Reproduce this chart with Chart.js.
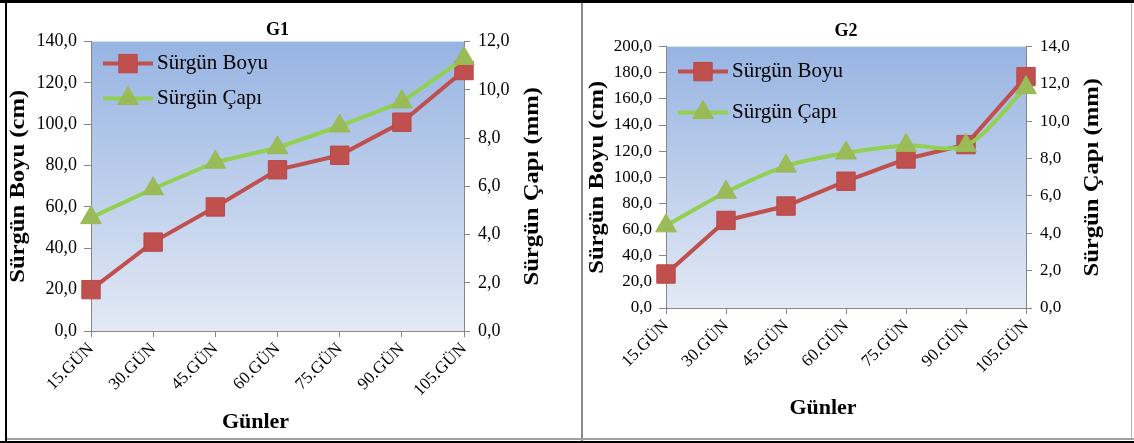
<!DOCTYPE html>
<html><head><meta charset="utf-8">
<script src="https://cdn.jsdelivr.net/npm/chart.js@4"></script>
<style>
html,body{margin:0;padding:0;background:#fff;overflow:hidden}
#wrap{position:relative;width:1134px;height:443px}
.c{position:absolute;top:0;height:443px}
.b{position:absolute}
</style></head><body>
<div id="wrap">
  <div class="c" style="left:0;width:582px"><canvas id="g1"></canvas></div>
  <div class="c" style="left:582px;width:552px"><canvas id="g2"></canvas></div>
  <div class="b" style="left:0;top:0;width:1134px;height:3px;background:#000"></div>
  <div class="b" style="left:5px;top:0;width:2px;height:443px;background:#000"></div>
  <div class="b" style="left:581px;top:3px;width:2px;height:438px;background:#8a8a8a"></div>
  <div class="b" style="left:7px;top:438px;width:1127px;height:2px;background:#a0a0a0"></div>
  <div class="b" style="left:0;top:441px;width:1134px;height:2px;background:#000"></div>
  <div class="b" style="left:1131px;top:3px;width:1px;height:436px;background:#b0b0b0"></div>
</div>
<script>
// ---- data ----
const categories = ['15.GÜN', '30.GÜN', '45.GÜN', '60.GÜN', '75.GÜN', '90.GÜN', '105.GÜN'];
const seriesNames = ['Sürgün Boyu', 'Sürgün Çapı'];
const g1Boyu = [20, 43, 60, 78, 85, 101, 126];
const g1Capi = [4.7, 5.9, 7.0, 7.6, 8.5, 9.5, 11.3];
const g2Boyu = [26, 67, 78, 97, 114, 125, 177];
const g2Capi = [4.4, 6.2, 7.6, 8.3, 8.7, 8.7, 11.8];
const g1BoyuAxis = [0, 140, 20];
const g1CapiAxis = [0, 12, 2];
const g2BoyuAxis = [0, 200, 20];
const g2CapiAxis = [0, 14, 2];
const leftTitle = 'Sürgün Boyu (cm)';
const rightTitle = 'Sürgün Çapı (mm)';
const xTitle = 'Günler';

const SERIF = '"Liberation Serif", "Times New Roman", serif';
const AXIS = '#868686';
const fmt = v => v.toFixed(1).replace('.', ',');

const bgPlugin = {
  id: 'plotBg',
  beforeDraw(chart) {
    const {ctx, chartArea: a} = chart;
    const g = ctx.createLinearGradient(0, a.top, 0, a.bottom);
    g.addColorStop(0, '#97b4e2');
    g.addColorStop(1, '#e3e9f5');
    ctx.save();
    ctx.fillStyle = g;
    ctx.fillRect(a.left, a.top, a.right - a.left, a.bottom - a.top);
    ctx.restore();
  }
};

const legendPlugin = {
  id: 'insideLegend',
  afterDatasetsDraw(chart, args, opts) {
    const {ctx, chartArea: a} = chart;
    const x0 = a.left + opts.dx;
    chart.data.datasets.forEach((ds, i) => {
      const y = a.top + opts.rows[i];
      ctx.save();
      ctx.strokeStyle = ds.borderColor;
      ctx.lineWidth = ds.borderWidth;
      ctx.beginPath(); ctx.moveTo(x0, y); ctx.lineTo(x0 + opts.len, y); ctx.stroke();
      ctx.fillStyle = ds.pointBackgroundColor;
      ctx.strokeStyle = ds.pointBorderColor;
      ctx.lineWidth = ds.pointBorderWidth;
      Chart.helpers.drawPoint(ctx, {pointStyle: ds.pointStyle, radius: ds.pointRadius, borderWidth: ds.pointBorderWidth, rotation: 0}, x0 + opts.len / 2, y);
      ctx.fillStyle = '#000';
      ctx.font = '21px ' + SERIF;
      ctx.textBaseline = 'middle';
      ctx.textAlign = 'left';
      ctx.fillText(ds.label, x0 + opts.len + opts.gap, y);
      ctx.restore();
    });
  }
};

const titlesPlugin = {
  id: 'axisTitles',
  afterDraw(chart, args, opts) {
    const {ctx, chartArea: a} = chart;
    const midY = (a.top + a.bottom) / 2;
    ctx.save();
    ctx.fillStyle = '#000';
    ctx.font = 'bold 22px ' + SERIF;
    ctx.textAlign = 'center';
    ctx.textBaseline = 'middle';
    ctx.fillText(opts.xText, (a.left + a.right) / 2 + opts.xDx, a.bottom + opts.xDy);
    [[a.left + opts.lDx, opts.lText], [a.right + opts.rDx, opts.rText]].forEach(([x, t]) => {
      ctx.save();
      ctx.translate(x, midY);
      ctx.rotate(-Math.PI / 2);
      ctx.scale(1.12, 1);
      ctx.fillText(t, 0, 0);
      ctx.restore();
    });
    ctx.restore();
  }
};

function makeChart(id, c) {
  return new Chart(document.getElementById(id), {
    type: 'line',
    data: {
      labels: categories,
      datasets: [
        {label: seriesNames[0], data: c.boyu, yAxisID: 'y', borderColor: '#c0504d', backgroundColor: '#c0504d',
         borderWidth: 4, pointStyle: 'rect', pointRadius: 13, pointHoverRadius: 13,
         pointBackgroundColor: '#c0504d', pointBorderColor: '#b8494a', pointBorderWidth: 1, tension: 0, order: 2},
        {label: seriesNames[1], data: c.capi, yAxisID: 'y1', borderColor: '#92d050', backgroundColor: '#9bbb59',
         borderWidth: 4, pointStyle: 'triangle', pointRadius: 12, pointHoverRadius: 12,
         pointBackgroundColor: '#9bbb59', pointBorderColor: '#98b956', pointBorderWidth: 1, tension: c.capiTension, order: 1}
      ]
    },
    options: {
      responsive: true, maintainAspectRatio: false, animation: false,
      layout: {padding: {left: 0, right: c.padRight, top: 0, bottom: 0}},
      plugins: {
        legend: {display: false},
        tooltip: {enabled: false},
        title: {display: true, text: c.title, fullSize: false, color: '#000',
                font: {family: SERIF, size: 18, weight: 'bold'}, padding: {top: c.titleTop, bottom: c.titleBottom}},
        insideLegend: c.legend,
        axisTitles: {xText: xTitle, xDx: c.xTitleDx, xDy: c.xTitleDy, rText: rightTitle, rDx: c.rTitleDx,
                     lText: leftTitle, lDx: c.lTitleDx}
      },
      scales: {
        x: {
          offset: false,
          grid: {display: true, drawOnChartArea: false, drawTicks: true, tickLength: 6, color: AXIS},
          border: {color: AXIS, width: 1},
          ticks: {autoSkip: false, maxRotation: 45, minRotation: 45, color: '#000', padding: 2,
                  font: {family: SERIF, size: 17}},
          afterFit(s) { s.height = c.xHeight; }
        },
        y: {
          position: 'left', min: c.yAxis[0], max: c.yAxis[1],
          grid: {drawOnChartArea: false, drawTicks: true, tickLength: 7, color: AXIS},
          border: {color: AXIS, width: 1},
          ticks: {stepSize: c.yAxis[2], padding: 7, color: '#000', font: {family: SERIF, size: c.tickSize}, callback: v => fmt(v)},
          afterFit(s) { s.width = c.yWidth; }
        },
        y1: {
          position: 'right', min: c.y1Axis[0], max: c.y1Axis[1],
          grid: {drawOnChartArea: false, drawTicks: true, tickLength: 6, color: AXIS},
          border: {color: AXIS, width: 1},
          ticks: {stepSize: c.y1Axis[2], padding: 8, color: '#000', font: {family: SERIF, size: c.tickSize}, callback: v => fmt(v)},
          afterFit(s) { s.width = c.y1Width; }
        }
      }
    },
    plugins: [bgPlugin, legendPlugin, titlesPlugin]
  });
}

makeChart('g1', {
  title: 'G1', boyu: g1Boyu, capi: g1Capi, yAxis: g1BoyuAxis, y1Axis: g1CapiAxis, capiTension: 0,
  padRight: 33, yWidth: 91, y1Width: 85, xHeight: 112, titleTop: 20, titleBottom: 0, tickSize: 18,
  legend: {dx: 12, rows: [22, 57], len: 50, gap: 4},
  xTitleDx: -22, xTitleDy: 91, rTitleDx: 68, lTitleDx: -73
});
makeChart('g2', {
  title: 'G2', boyu: g2Boyu, capi: g2Capi, yAxis: g2BoyuAxis, y1Axis: g2CapiAxis, capiTension: 0.3,
  padRight: 25, yWidth: 84, y1Width: 83, xHeight: 135, titleTop: 21, titleBottom: 4, tickSize: 17,
  legend: {dx: 12, rows: [25, 66], len: 50, gap: 4},
  xTitleDx: -23, xTitleDy: 100, rTitleDx: 66, lTitleDx: -69
});
</script>
</body></html>
